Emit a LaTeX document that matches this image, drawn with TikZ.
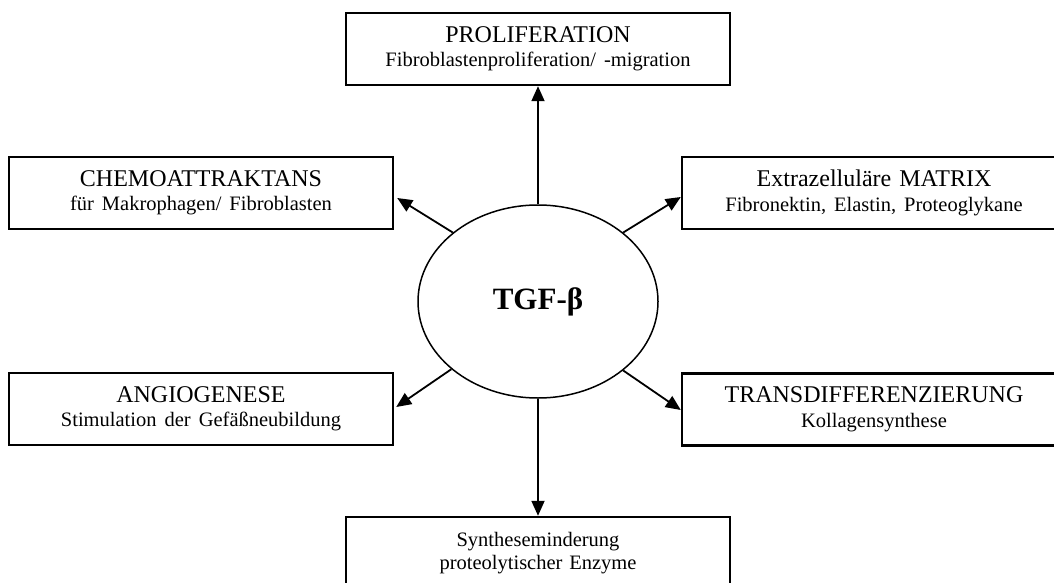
\documentclass[tikz,border=0pt]{standalone}
\usepackage{fontspec}
\setmainfont{Liberation Serif}
\usetikzlibrary{arrows.meta,calc,shapes.geometric}
\tikzset{
  boxnode/.style={draw, line width=2.4pt, minimum width=384pt, minimum height=72pt,
    inner sep=0pt, align=center, text width=380pt, font=\fontsize{24}{24.5}\selectfont},
  arrowline/.style={line width=1.8pt, -{Triangle[length=15pt,width=13pt]}},
}
\newcommand{\subline}[1]{{\fontsize{20.5}{24.5}\selectfont #1}}
\begin{document}
\begin{tikzpicture}[x=1pt,y=-1pt]
\clip (0,0) rectangle (1054,583);
\fill[white] (0,0) rectangle (1054,583);
\node[boxnode] (top) at (538,49) {PROLIFERATION\\\subline{Fibroblastenproliferation/ -migration}};
\node[boxnode] (cl) at (201,193) {CHEMOATTRAKTANS\\\subline{für Makrophagen/ Fibroblasten}};
\node[boxnode] (cr) at (874,193) {Extrazelluläre MATRIX\\\subline{Fibronektin, Elastin, Proteoglykane}};
\node[boxnode] (al) at (201,409) {ANGIOGENESE\\\subline{Stimulation der Gefäßneubildung}};
\node[boxnode] (ar) at (874,409.5) {TRANSDIFFERENZIERUNG\\\subline{Kollagensynthese}};
\node[boxnode, font=\fontsize{20.5}{23}\selectfont] (bot) at (538,553) {Syntheseminderung\\proteolytischer Enzyme};
\node[draw, ellipse, line width=1.5pt, minimum width=240pt, minimum height=193pt, inner sep=0pt,
  font=\fontsize{31}{34}\selectfont\bfseries] (e) at (538,301.5) {TGF-β};
\draw[arrowline] (e.north) -- (top.south);
\draw[arrowline] (e.141) -- ($(cl.east)+(3,5)$);
\draw[arrowline] (e.39) -- ($(cr.west)+(0,4)$);
\draw[arrowline] (e.218.5) -- ($(al.east)+(2,-2)$);
\draw[arrowline] (e.321.5) -- ($(ar.west)+(0,0.5)$);
\draw[arrowline] (e.south) -- (bot.north);
\end{tikzpicture}
\end{document}
